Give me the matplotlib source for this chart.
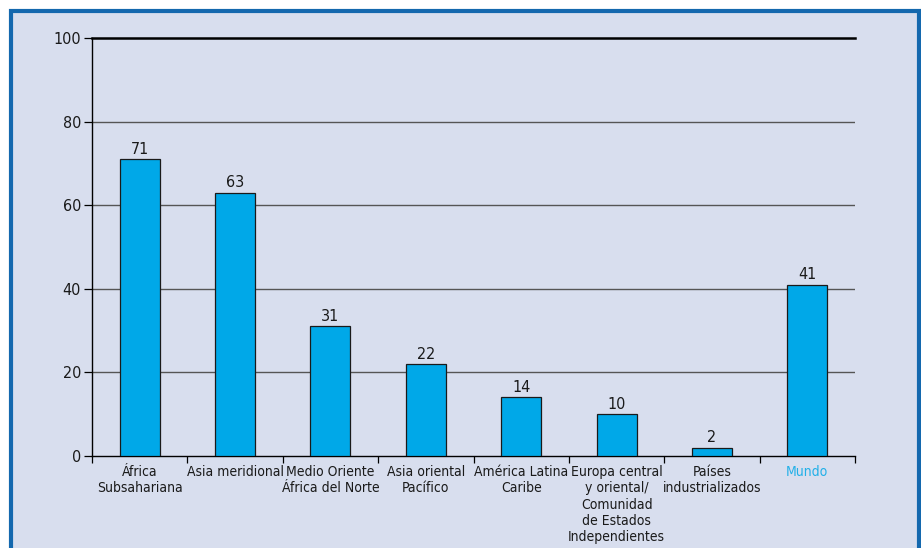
import matplotlib.pyplot as plt
import numpy as np
from matplotlib.patches import Rectangle
from matplotlib.transforms import blended_transform_factory

categories = [
    "África\nSubsahariana",
    "Asia meridional",
    "Medio Oriente\nÁfrica del Norte",
    "Asia oriental\nPacífico",
    "América Latina\nCaribe",
    "Europa central\ny oriental/\nComunidad\nde Estados\nIndependientes",
    "Países\nindustrializados",
    "Mundo",
]
values = [71, 63, 31, 22, 14, 10, 2, 41]
yticks = [0, 20, 40, 60, 80, 100]

BG = "#D8DEEE"
BAR = "#00A8E8"
FRAME = "#1468AE"

plt.rcParams["font.family"] = ["DejaVu Sans"]
plt.rcParams["font.stretch"] = "condensed"

fig = plt.figure(figsize=(9.21, 5.48), dpi=100, facecolor="white")

# blue framed panel
fig.patches.append(Rectangle((11 / 921, -0.05), 908 / 921, 1.05 - 11 / 548,
                             transform=fig.transFigure, facecolor=BG,
                             edgecolor=FRAME, linewidth=3.0, zorder=-5))

ax = fig.add_axes([92 / 921, 1 - 456 / 548, 763 / 921, 418 / 548])
ax.set_facecolor("none")

x = np.arange(len(values))
ax.bar(x, values, width=0.42, color=BAR, edgecolor="#1a1a1a",
       linewidth=0.9, zorder=3)

for xi, v in zip(x, values):
    ax.text(xi, v + 0.6, str(v), ha="center", va="bottom",
            fontsize=11.5, color="#1a1a1a", zorder=4)

ax.set_xlim(-0.5, len(values) - 0.5)
ax.set_ylim(0, 100)
ax.set_yticks(yticks)
ax.set_yticklabels([str(t) for t in yticks], fontsize=11.5, color="#1a1a1a")
ax.tick_params(axis="y", length=6, width=0.9, pad=2)

for t in yticks[1:-1]:
    ax.axhline(t, color="#555555", linewidth=1.0, zorder=1)

# x ticks sit between categories
ax.set_xticks(np.arange(len(values) + 1) - 0.5)
ax.set_xticklabels([])
ax.tick_params(axis="x", length=5, width=0.9)

trans = blended_transform_factory(ax.transData, ax.transAxes)
for xi, lab in zip(x, categories):
    col = "#22B0E8" if lab == "Mundo" else "#1a1a1a"
    ax.text(xi, -0.022, lab, transform=trans, ha="center", va="top",
            fontsize=10, color=col, linespacing=1.2)

ax.spines["right"].set_visible(False)
for s in ("left", "bottom"):
    ax.spines[s].set_linewidth(1.0)
ax.spines["top"].set_linewidth(1.8)
ax.spines["top"].set_color("black")

fig.savefig("out.png", dpi=100, facecolor="white")
